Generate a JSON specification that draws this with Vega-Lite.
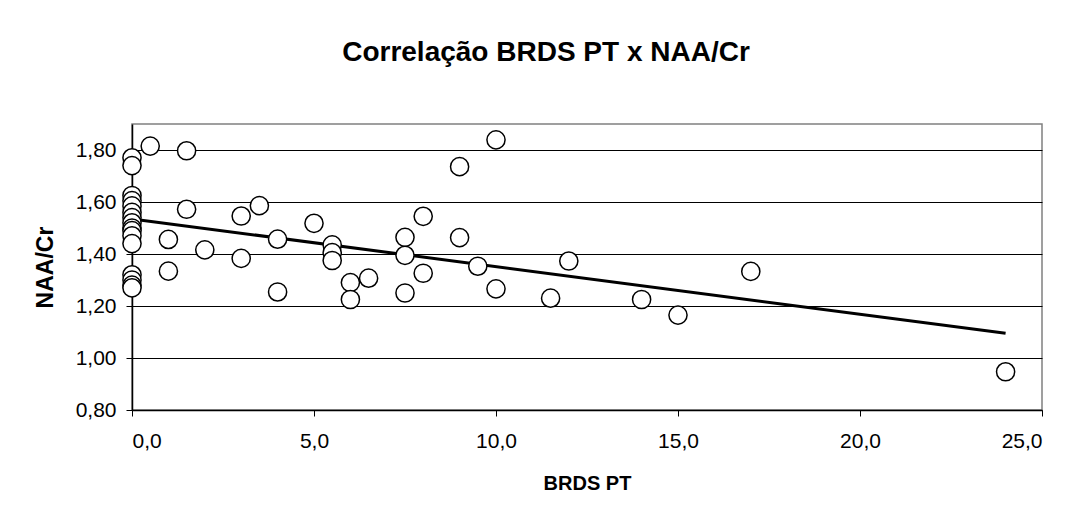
{
  "$schema": "https://vega.github.io/schema/vega-lite/v6.json",
  "autosize": "none",
  "width": 910,
  "height": 286,
  "padding": {"left": 132, "top": 124, "right": 29, "bottom": 106},
  "background": "white",
  "config": {
    "locale": {"number": {"decimal": ",", "thousands": ".", "grouping": [3], "currency": ["", ""]}},
    "font": "Liberation Sans",
    "view": {"stroke": "#808080", "strokeWidth": 1.5}
  },
  "title": {
    "text": "Correlação BRDS PT x NAA/Cr",
    "font": "Liberation Sans",
    "fontSize": 28,
    "fontWeight": "bold",
    "color": "black",
    "anchor": "middle",
    "baseline": "alphabetic",
    "offset": 35,
    "dx": -41
  },
  "datasets": {
    "points": [
      {"brds": 0, "naa": 1.77}, {"brds": 0, "naa": 1.74}, {"brds": 0, "naa": 1.625}, {"brds": 0, "naa": 1.605},
      {"brds": 0, "naa": 1.585}, {"brds": 0, "naa": 1.56}, {"brds": 0, "naa": 1.54}, {"brds": 0, "naa": 1.52},
      {"brds": 0, "naa": 1.50}, {"brds": 0, "naa": 1.49}, {"brds": 0, "naa": 1.47}, {"brds": 0, "naa": 1.44},
      {"brds": 0, "naa": 1.32}, {"brds": 0, "naa": 1.30}, {"brds": 0, "naa": 1.28}, {"brds": 0, "naa": 1.27},
      {"brds": 0.5, "naa": 1.815},
      {"brds": 1.0, "naa": 1.456}, {"brds": 1.0, "naa": 1.334},
      {"brds": 1.5, "naa": 1.797}, {"brds": 1.5, "naa": 1.572},
      {"brds": 2.0, "naa": 1.416},
      {"brds": 3.0, "naa": 1.546}, {"brds": 3.0, "naa": 1.383},
      {"brds": 3.5, "naa": 1.586},
      {"brds": 4.0, "naa": 1.457}, {"brds": 4.0, "naa": 1.254},
      {"brds": 5.0, "naa": 1.518},
      {"brds": 5.5, "naa": 1.435}, {"brds": 5.5, "naa": 1.405}, {"brds": 5.5, "naa": 1.375},
      {"brds": 6.0, "naa": 1.29}, {"brds": 6.0, "naa": 1.225},
      {"brds": 6.5, "naa": 1.307},
      {"brds": 7.5, "naa": 1.464}, {"brds": 7.5, "naa": 1.395}, {"brds": 7.5, "naa": 1.25},
      {"brds": 8.0, "naa": 1.545}, {"brds": 8.0, "naa": 1.326},
      {"brds": 9.0, "naa": 1.736}, {"brds": 9.0, "naa": 1.463},
      {"brds": 9.5, "naa": 1.353},
      {"brds": 10.0, "naa": 1.839}, {"brds": 10.0, "naa": 1.266},
      {"brds": 11.5, "naa": 1.23},
      {"brds": 12.0, "naa": 1.373},
      {"brds": 14.0, "naa": 1.225},
      {"brds": 15.0, "naa": 1.165},
      {"brds": 17.0, "naa": 1.333},
      {"brds": 24.0, "naa": 0.947}
    ],
    "trend": [
      {"brds": 0, "naa": 1.535},
      {"brds": 24, "naa": 1.095}
    ]
  },
  "layer": [
    {
      "data": {"name": "trend"},
      "mark": {"type": "line", "color": "black", "strokeWidth": 3},
      "encoding": {
        "x": {"field": "brds", "type": "quantitative"},
        "y": {"field": "naa", "type": "quantitative"}
      }
    },
    {
      "data": {"name": "points"},
      "mark": {"type": "point", "shape": "circle", "filled": true, "fill": "white", "stroke": "black", "strokeWidth": 1.5, "size": 330, "opacity": 1},
      "encoding": {
        "x": {
          "field": "brds", "type": "quantitative",
          "scale": {"domain": [0, 25], "nice": false, "zero": false},
          "axis": {
            "title": "BRDS PT", "format": ".1f", "values": [0, 5, 10, 15, 20, 25],
            "grid": false, "domainColor": "black", "domainWidth": 1.5,
            "tickColor": "black", "tickSize": 6, "tickWidth": 1,
            "labelFont": "Liberation Sans", "labelFontSize": 21, "labelColor": "black", "labelPadding": 14,
            "titleFont": "Liberation Sans", "titleFontSize": 20, "titleFontWeight": "bold", "titleColor": "black", "titlePadding": 22
          }
        },
        "y": {
          "field": "naa", "type": "quantitative",
          "scale": {"domain": [0.8, 1.9], "nice": false, "zero": false},
          "axis": {
            "title": "NAA/Cr", "format": ".2f", "values": [0.8, 1.0, 1.2, 1.4, 1.6, 1.8],
            "grid": true, "gridColor": "black", "gridWidth": 1, "gridOpacity": 1,
            "domainColor": "black", "domainWidth": 1.5,
            "tickColor": "black", "tickSize": 6, "tickWidth": 1,
            "labelFont": "Liberation Sans", "labelFontSize": 21, "labelColor": "black", "labelPadding": 10,
            "titleFont": "Liberation Sans", "titleFontSize": 23, "titleFontWeight": "bold", "titleColor": "black", "titlePadding": 18
          }
        }
      }
    }
  ]
}
